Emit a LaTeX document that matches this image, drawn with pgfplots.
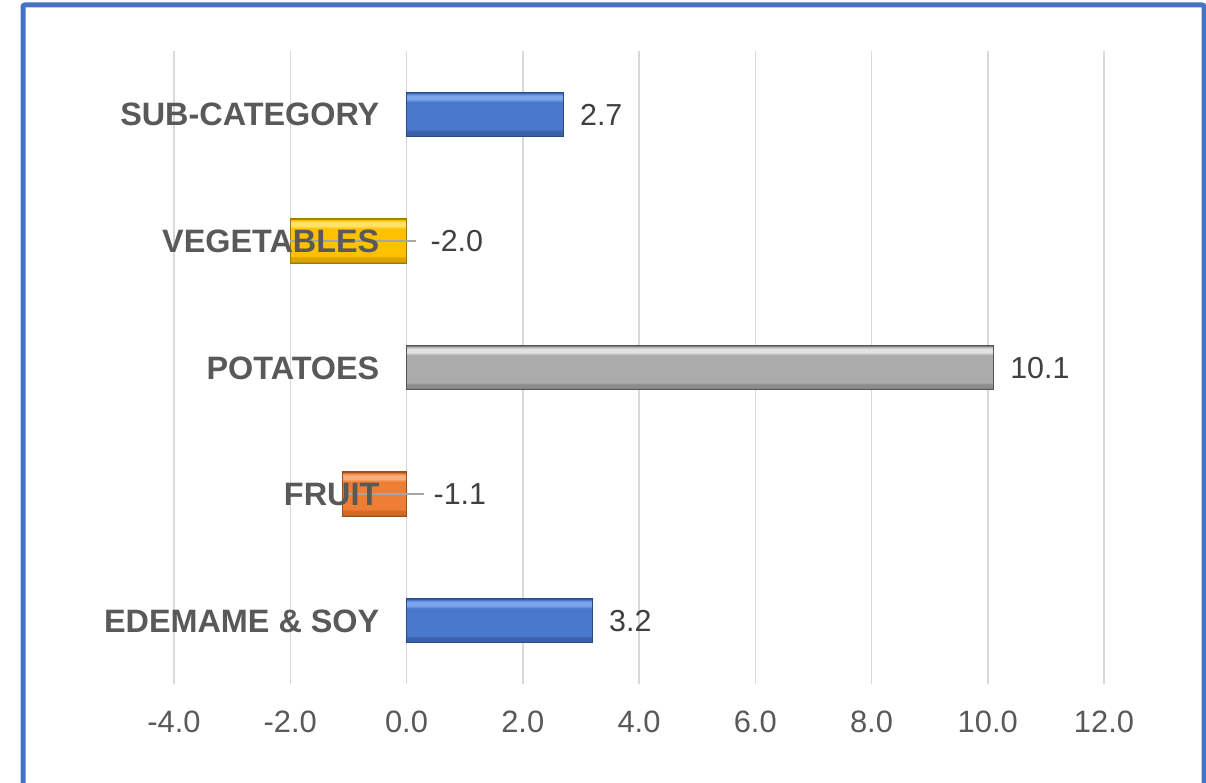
\documentclass[border=0pt]{standalone}
\usepackage{pgfplots}
\pgfplotsset{compat=1.18}
\usepackage{fontspec}
\setmainfont{Liberation Sans}

\definecolor{frameblue}{HTML}{4472C4}
\definecolor{gridgray}{HTML}{D9D9D9}
\definecolor{labelgray}{HTML}{595959}
\definecolor{valuegray}{HTML}{404040}
\definecolor{leadergray}{HTML}{A6A6A6}
% bar colours: edge, bottom band, main, top highlight
\definecolor{blueE}{HTML}{2A4A86}
\definecolor{blueB}{HTML}{3A62AA}
\definecolor{blueM}{HTML}{4A78CC}
\definecolor{blueT}{HTML}{7CA6EE}
\definecolor{yelE}{HTML}{A07800}
\definecolor{yelB}{HTML}{D9A300}
\definecolor{yelM}{HTML}{FFC000}
\definecolor{yelT}{HTML}{FFE36B}
\definecolor{grayE}{HTML}{555555}
\definecolor{grayB}{HTML}{8C8C8C}
\definecolor{grayM}{HTML}{ABABAB}
\definecolor{grayT}{HTML}{E2E2E2}
\definecolor{orE}{HTML}{9C4E17}
\definecolor{orB}{HTML}{D06A24}
\definecolor{orM}{HTML}{EE7E33}
\definecolor{orT}{HTML}{F8AE7A}

% bevelled look: dark bottom band, flat middle, light band near the top
\newcommand\bevelshading[2]{%
  \pgfdeclareverticalshading{#1}{100bp}{%
    color(0bp)=(#2E); color(25bp)=(#2E); color(27bp)=(#2B); color(31bp)=(#2B);
    color(33bp)=(#2M); color(64bp)=(#2M); color(67bp)=(#2T); color(71bp)=(#2T);
    color(73.5bp)=(#2M); color(75bp)=(#2E); color(100bp)=(#2E)}}
\bevelshading{blueBevel}{blue}
\bevelshading{yelBevel}{yel}
\bevelshading{grayBevel}{gray}
\bevelshading{orBevel}{or}

\begin{document}
\begin{tikzpicture}[x=1bp,y=1bp]
\useasboundingbox (0,0) rectangle (1206,783);
\fill[white] (0,0) rectangle (1206,783);
% outer frame (bottom edge runs off the page)
\draw[frameblue, line width=5bp, rounded corners=2bp]
  (23,-30) -- (23,778) -- (1204,778) -- (1204,-30);

\begin{axis}[
  at={(174bp,99bp)}, anchor=south west,
  scale only axis, width=930bp, height=633bp,
  xmin=-4, xmax=12, ymin=-0.5, ymax=4.5,
  xbar, bar width=0.35, bar shift=0pt,
  xtick={-4,-2,...,12}, ytick=\empty,
  xmajorgrids,
  major grid style={draw=gridgray, line width=1.5bp},
  axis line style={draw=none},
  major tick length=0pt,
  /pgf/number format/assume math mode=true,
  /pgf/number format/fixed,
  /pgf/number format/fixed zerofill,
  /pgf/number format/precision=1,
  x tick label style={font=\fontsize{31}{36}\selectfont, text=labelgray,
                      anchor=base, yshift=-49bp},
  clip=false,
]
% EDEMAME & SOY
\addplot[xbar, draw=blueE, line width=1bp, shade, shading=blueBevel]
  coordinates {(3.2,0)};
% FRUIT
\addplot[xbar, draw=orE, line width=1bp, shade, shading=orBevel]
  coordinates {(-1.1,1)};
% POTATOES
\addplot[xbar, draw=grayE, line width=1bp, shade, shading=grayBevel]
  coordinates {(10.1,2)};
% VEGETABLES
\addplot[xbar, draw=yelE, line width=1bp, shade, shading=yelBevel]
  coordinates {(-2.0,3)};
% SUB-CATEGORY
\addplot[xbar, draw=blueE, line width=1bp, shade, shading=blueBevel]
  coordinates {(2.7,4)};

% leader lines for the labels of the negative bars
\draw[leadergray, line width=1.5bp] (axis cs:-2.0,3) -- ([xshift=9bp]axis cs:0,3);
\draw[leadergray, line width=1.5bp] (axis cs:-1.1,1) -- ([xshift=17bp]axis cs:0,1);

% category names
\tikzset{cat/.style={anchor=base east, inner sep=0pt, xshift=-27bp, yshift=-11.6bp,
  font=\bfseries\fontsize{32.5}{38}\selectfont, text=labelgray}}
\node[cat] at (axis cs:0,4) {SUB-CATEGORY};
\node[cat] at (axis cs:0,3) {VEGETABLES};
\node[cat] at (axis cs:0,2) {POTATOES};
\node[cat] at (axis cs:0,1) {FRUIT};
\node[cat] at (axis cs:0,0) {EDEMAME \& SOY};

% value labels
\tikzset{val/.style={anchor=base west, inner sep=0pt, yshift=-10.9bp,
  font=\fontsize{30.5}{36}\selectfont, text=valuegray}}
\node[val, xshift=16.5bp] at (axis cs:2.7,4) {2.7};
\node[val, xshift=24bp]   at (axis cs:0,3)   {-2.0};
\node[val, xshift=16.5bp] at (axis cs:10.1,2) {10.1};
\node[val, xshift=27bp]   at (axis cs:0,1)   {-1.1};
\node[val, xshift=16.5bp] at (axis cs:3.2,0) {3.2};
\end{axis}
\end{tikzpicture}
\end{document}
